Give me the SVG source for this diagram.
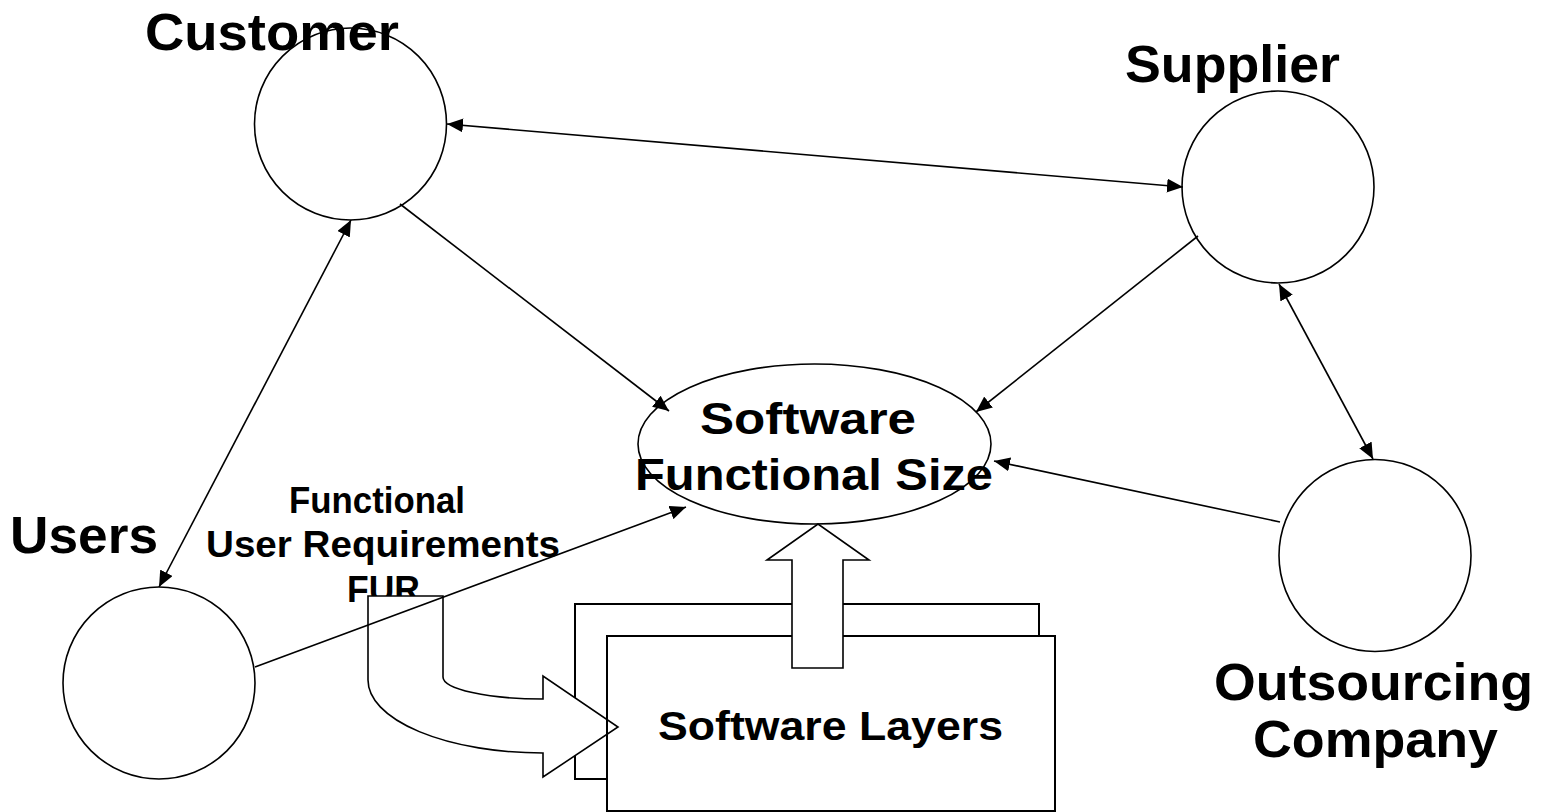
<svg xmlns="http://www.w3.org/2000/svg" width="1557" height="812" viewBox="0 0 1557 812">
  <defs>
    <marker id="head" viewBox="0 0 16 14" refX="16" refY="7" markerWidth="16" markerHeight="14" markerUnits="userSpaceOnUse" orient="auto-start-reverse">
      <path d="M0,0 L16,7 L0,14 Z" fill="#000"/>
    </marker>
    <style>
      .lbl { font-family: "Liberation Sans", Arial, sans-serif; font-weight: bold; fill: #000; }
      .big { font-size: 52px; }
      .mid { font-size: 44px; }
      .fur { font-size: 36px; }
      .ring { fill: none; stroke: #000; stroke-width: 1.6; }
      .box { fill: #fff; stroke: #000; stroke-width: 2; }
      .block { fill: #fff; stroke: #000; stroke-width: 1.6; stroke-linejoin: miter; }
      .link { fill: none; stroke: #000; stroke-width: 1.6; }
    </style>
  </defs>
  <rect width="1557" height="812" fill="#fff"/>

  <!-- FUR caption (partly hidden behind the curved arrow) -->
  <g id="fur-label">
    <text class="lbl fur" x="289" y="513" textLength="176" lengthAdjust="spacingAndGlyphs">Functional</text>
    <text class="lbl fur" x="206" y="557" textLength="354" lengthAdjust="spacingAndGlyphs">User Requirements</text>
    <text class="lbl fur" x="347" y="602" textLength="73" lengthAdjust="spacingAndGlyphs">FUR</text>
  </g>

  <!-- stacked software layers -->
  <g id="software-layers">
    <rect class="box" x="575" y="604" width="464" height="175"/>
    <rect x="607" y="636" width="448" height="175" fill="#fff"/>
    <!-- curved block arrow feeding the layers -->
    <path class="block" d="M368,596 H443 V677 A100,22 0 0 0 543,699 V676 L618,727 L543,777 V753 A175,73 0 0 1 368,680 Z"/>
    <rect x="607" y="636" width="448" height="175" fill="none" stroke="#000" stroke-width="2"/>
    <text class="lbl" x="658" y="740" font-size="40" textLength="345" lengthAdjust="spacingAndGlyphs">Software Layers</text>
    <!-- block arrow up to the size -->
    <path class="block" d="M792,668 V560 H767 L818,524 L869,560 H843 V668 Z"/>
  </g>

  <g id="customer">
    <text class="lbl big" x="145" y="50" textLength="254" lengthAdjust="spacingAndGlyphs">Customer</text>
    <circle class="ring" cx="350.5" cy="124" r="96"/>
  </g>

  <g id="supplier">
    <text class="lbl big" x="1125" y="82" textLength="215" lengthAdjust="spacingAndGlyphs">Supplier</text>
    <circle class="ring" cx="1278" cy="187" r="96"/>
  </g>

  <g id="outsourcing">
    <circle class="ring" cx="1375" cy="555.5" r="96"/>
    <text class="lbl big" x="1214" y="700" textLength="319" lengthAdjust="spacingAndGlyphs">Outsourcing</text>
    <text class="lbl big" x="1253" y="757" textLength="245" lengthAdjust="spacingAndGlyphs">Company</text>
  </g>

  <g id="users">
    <text class="lbl big" x="10" y="553" textLength="148" lengthAdjust="spacingAndGlyphs">Users</text>
    <circle class="ring" cx="159" cy="683" r="96"/>
  </g>

  <g id="functional-size">
    <text class="lbl mid" x="700" y="434" textLength="216" lengthAdjust="spacingAndGlyphs">Software</text>
    <text class="lbl mid" x="635" y="490" textLength="358" lengthAdjust="spacingAndGlyphs">Functional Size</text>
    <ellipse class="ring" cx="814.5" cy="444" rx="176.5" ry="80"/>
  </g>

  <g id="connectors">
    <line class="link" x1="447" y1="124" x2="1183" y2="187" marker-start="url(#head)" marker-end="url(#head)"/>
    <line class="link" x1="400" y1="204" x2="669" y2="411" marker-end="url(#head)"/>
    <line class="link" x1="1198" y1="236" x2="976" y2="412" marker-end="url(#head)"/>
    <line class="link" x1="1279" y1="284" x2="1373" y2="459" marker-start="url(#head)" marker-end="url(#head)"/>
    <line class="link" x1="1280" y1="522" x2="994" y2="461" marker-end="url(#head)"/>
    <line class="link" x1="351" y1="220" x2="159" y2="587" marker-start="url(#head)" marker-end="url(#head)"/>
    <line class="link" x1="255" y1="667" x2="686" y2="507" marker-end="url(#head)"/>
  </g>
</svg>
